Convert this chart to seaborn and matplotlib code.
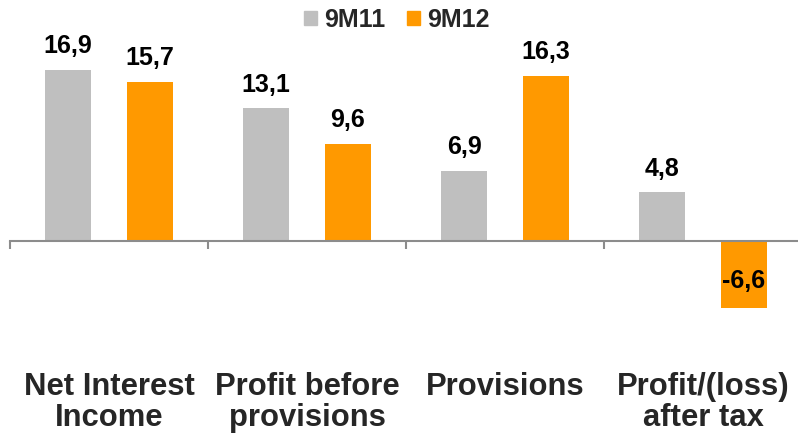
import pandas as pd
import matplotlib.pyplot as plt
from matplotlib.patches import Patch
import seaborn as sns

# === data ===
categories = ['Net Interest\nIncome', 'Profit before\nprovisions', 'Provisions', 'Profit/(loss)\nafter tax']
periods = ['9M11', '9M12']
val_9m11 = [16.9, 13.1, 6.9, 4.8]
val_9m12 = [15.7, 9.6, 16.3, -6.6]

GREY, ORANGE = '#BFBFBF', '#FF9900'

df = pd.DataFrame({
    'cat': categories * 2,
    'period': [periods[0]] * 4 + [periods[1]] * 4,
    'value': val_9m11 + val_9m12,
})

sns.set_style('white')
plt.rcParams['font.family'] = ['Liberation Sans', 'DejaVu Sans']
plt.rcParams['font.weight'] = 'bold'

fig = plt.figure(figsize=(7.98, 4.34), dpi=100)
ax = fig.add_axes([10 / 798, 114 / 434, 792 / 798, 320 / 434])

sns.barplot(data=df, x='cat', y='value', hue='period', order=categories, hue_order=periods,
            palette=[GREY, ORANGE], width=0.828, gap=0.44, ax=ax, legend=False,
            saturation=1, linewidth=0)

ax.set_xlim(-0.5, 3.5)
ax.set_ylim(-7.8, 23.79)

# value labels
for cont in ax.containers:
    for bar in cont:
        h = bar.get_height()
        xc = bar.get_x() + bar.get_width() / 2
        txt = f'{h:.1f}'.replace('.', ',')
        ax.annotate(txt, (xc, h), xytext=(0, 12 if h >= 0 else 14.5), textcoords='offset points',
                    ha='center', va='baseline', fontsize=18, fontweight='bold', color='black')

# axis styling: zero line with separators between groups
for s in ['top', 'right', 'left']:
    ax.spines[s].set_visible(False)
ax.spines['bottom'].set_position(('data', 0))
ax.spines['bottom'].set_color('#8c8c8c')
ax.spines['bottom'].set_linewidth(1.5)
ax.set_yticks([])
ax.set_xticks(range(len(categories)))
ax.set_xticklabels(categories, fontsize=22.3, fontweight='bold', linespacing=1.07)
ax.set_xticks([-0.5, 0.5, 1.5, 2.5, 3.5], minor=True)
ax.tick_params(axis='x', which='major', bottom=True, length=0, pad=94)
ax.tick_params(axis='x', which='minor', bottom=True, length=6, width=1.5, color='#8c8c8c', direction='out')
ax.set_xlabel('')
ax.set_ylabel('')

handles = [Patch(color=GREY, label=periods[0]), Patch(color=ORANGE, label=periods[1])]
fig.legend(handles=handles, loc='upper center', bbox_to_anchor=(0.497, 1.034), ncol=2, frameon=False,
           prop={'size': 18, 'weight': 'bold'}, handlelength=0.52, handleheight=0.52,
           handletextpad=0.3, columnspacing=0.85)

fig.savefig('out.png', dpi=100)
